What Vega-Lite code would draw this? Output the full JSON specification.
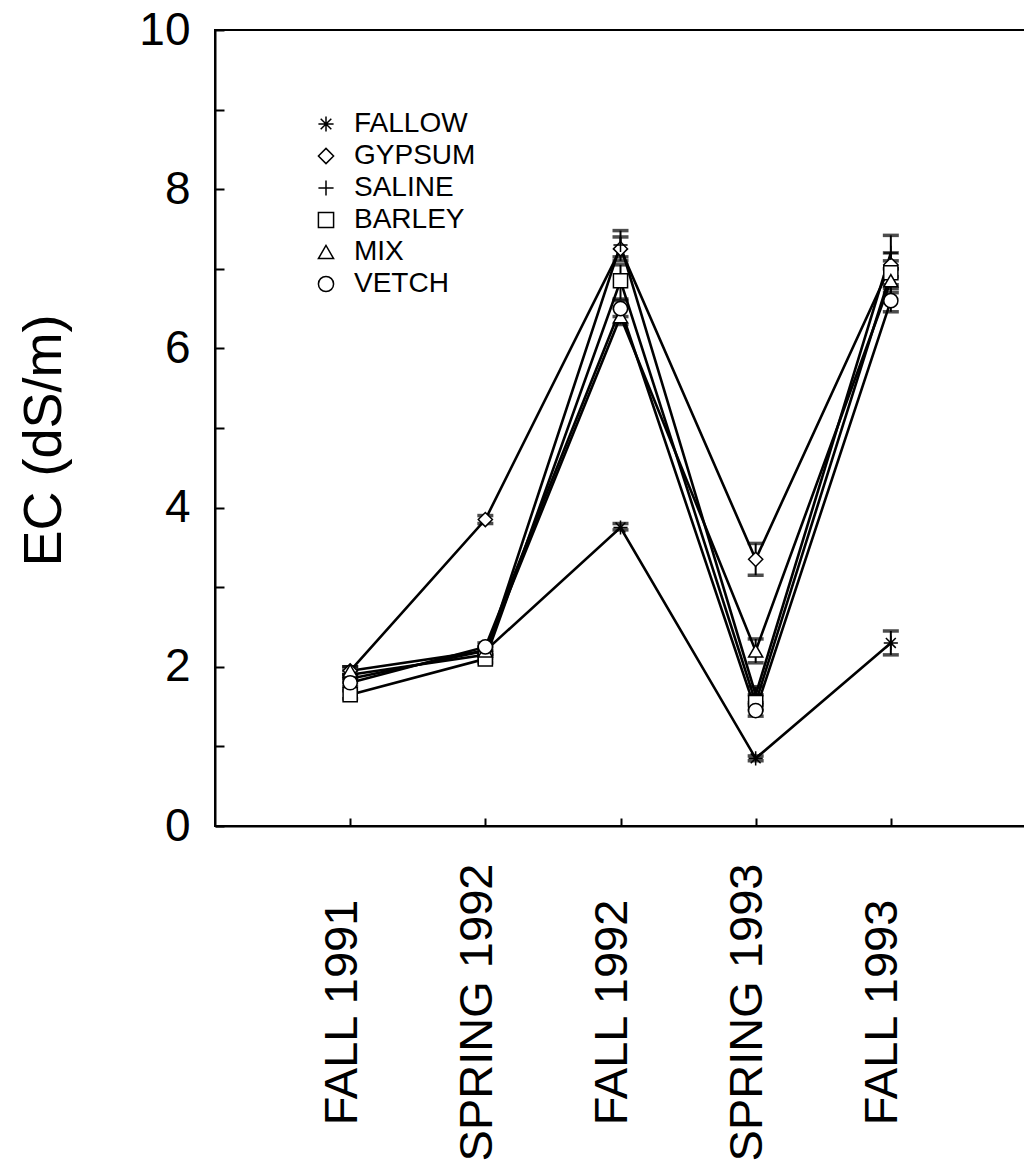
{
  "$schema": "https://vega.github.io/schema/vega-lite/v6.json",
  "width": 811,
  "height": 796,
  "autosize": "none",
  "padding": {"left": 215, "top": 30, "right": 0, "bottom": 340},
  "background": "white",
  "config": {
    "font": "Liberation Sans",
    "view": {"stroke": "black", "strokeWidth": 2},
    "axis": {"domainColor": "black", "domainWidth": 2, "tickColor": "black", "tickWidth": 2, "labelColor": "black", "titleColor": "black", "grid": false, "labelFont": "Liberation Sans", "titleFont": "Liberation Sans", "labelFontWeight": "normal", "titleFontWeight": "normal", "labelLimit": 0}
  },
  "data": {"values": [
    {"series": "FALLOW", "period": "FALL 1991", "value": 1.85, "lo": 1.8, "hi": 1.9},
    {"series": "FALLOW", "period": "SPRING 1992", "value": 2.2, "lo": 2.15, "hi": 2.25},
    {"series": "FALLOW", "period": "FALL 1992", "value": 3.75, "lo": 3.72, "hi": 3.8},
    {"series": "FALLOW", "period": "SPRING 1993", "value": 0.85, "lo": 0.82, "hi": 0.88},
    {"series": "FALLOW", "period": "FALL 1993", "value": 2.3, "lo": 2.15, "hi": 2.45},
    {"series": "GYPSUM", "period": "FALL 1991", "value": 1.95, "lo": 1.9, "hi": 2.0},
    {"series": "GYPSUM", "period": "SPRING 1992", "value": 3.85, "lo": 3.8, "hi": 3.9},
    {"series": "GYPSUM", "period": "FALL 1992", "value": 7.25, "lo": 7.1, "hi": 7.4},
    {"series": "GYPSUM", "period": "SPRING 1993", "value": 3.35, "lo": 3.15, "hi": 3.55},
    {"series": "GYPSUM", "period": "FALL 1993", "value": 7.05, "lo": 6.9, "hi": 7.2},
    {"series": "SALINE", "period": "FALL 1991", "value": 1.9, "lo": 1.85, "hi": 1.95},
    {"series": "SALINE", "period": "SPRING 1992", "value": 2.15, "lo": 2.1, "hi": 2.2},
    {"series": "SALINE", "period": "FALL 1992", "value": 7.3, "lo": 7.15, "hi": 7.48},
    {"series": "SALINE", "period": "SPRING 1993", "value": 1.65, "lo": 1.55, "hi": 1.75},
    {"series": "SALINE", "period": "FALL 1993", "value": 7.2, "lo": 7.0, "hi": 7.42},
    {"series": "BARLEY", "period": "FALL 1991", "value": 1.65, "lo": 1.6, "hi": 1.7},
    {"series": "BARLEY", "period": "SPRING 1992", "value": 2.1, "lo": 2.05, "hi": 2.15},
    {"series": "BARLEY", "period": "FALL 1992", "value": 6.85, "lo": 6.62, "hi": 7.05},
    {"series": "BARLEY", "period": "SPRING 1993", "value": 1.55, "lo": 1.45, "hi": 1.65},
    {"series": "BARLEY", "period": "FALL 1993", "value": 6.95, "lo": 6.8, "hi": 7.1},
    {"series": "MIX", "period": "FALL 1991", "value": 1.95, "lo": 1.9, "hi": 2.0},
    {"series": "MIX", "period": "SPRING 1992", "value": 2.2, "lo": 2.15, "hi": 2.25},
    {"series": "MIX", "period": "FALL 1992", "value": 6.4, "lo": 6.3, "hi": 6.5},
    {"series": "MIX", "period": "SPRING 1993", "value": 2.2, "lo": 2.05, "hi": 2.35},
    {"series": "MIX", "period": "FALL 1993", "value": 6.85, "lo": 6.7, "hi": 7.0},
    {"series": "VETCH", "period": "FALL 1991", "value": 1.8, "lo": 1.75, "hi": 1.85},
    {"series": "VETCH", "period": "SPRING 1992", "value": 2.25, "lo": 2.2, "hi": 2.3},
    {"series": "VETCH", "period": "FALL 1992", "value": 6.5, "lo": 6.4, "hi": 6.6},
    {"series": "VETCH", "period": "SPRING 1993", "value": 1.45, "lo": 1.38, "hi": 1.52},
    {"series": "VETCH", "period": "FALL 1993", "value": 6.6, "lo": 6.46, "hi": 6.75}
  ]},
  "encoding": {
    "x": {
      "field": "period", "type": "ordinal",
      "sort": ["FALL 1991", "SPRING 1992", "FALL 1992", "SPRING 1993", "FALL 1993"],
      "scale": {"type": "point", "padding": 1},
      "axis": {"title": null, "labelAngle": -90, "labelAlign": "center", "labelBaseline": "middle", "labelFontSize": 47, "tickSize": -8, "labelPadding": 194, "labelOffset": -8, "labelFlush": false, "labelOverlap": false}
    }
  },
  "layer": [
    {
      "mark": {"type": "line", "color": "black", "strokeWidth": 2.6},
      "encoding": {
        "y": {"field": "value", "type": "quantitative", "scale": {"domain": [0, 10], "nice": false},
          "axis": {"title": "EC (dS/m)", "values": [0,1,2,3,4,5,6,7,8,9,10], "format": "d", "labelExpr": "datum.value % 2 == 0 ? datum.label : ''", "tickSize": -9, "labelPadding": 34, "labelFontSize": 46, "labelBaseline": "middle", "titleFontSize": 54, "titleAngle": -90, "titleX": -155, "titleY": 410, "titleAlign": "center", "titleBaseline": "alphabetic", "labelFlush": false, "labelOverlap": false}},
        "detail": {"field": "series"}
      }
    },
    {
      "mark": {"type": "rule", "color": "black", "strokeWidth": 2},
      "encoding": {"y": {"field": "lo", "type": "quantitative"}, "y2": {"field": "hi"}}
    },
    {
      "mark": {"type": "tick", "color": "black", "thickness": 3.5, "size": 16, "orient": "horizontal"},
      "encoding": {"y": {"field": "lo", "type": "quantitative"}}
    },
    {
      "mark": {"type": "tick", "color": "black", "thickness": 3.5, "size": 16, "orient": "horizontal"},
      "encoding": {"y": {"field": "hi", "type": "quantitative"}}
    },
    {
      "mark": {"type": "point", "filled": false, "color": "black", "fill": "white", "fillOpacity": 1, "strokeWidth": 1.5, "size": 200, "opacity": 1},
      "encoding": {
        "y": {"field": "value", "type": "quantitative"},
        "shape": {"field": "series", "type": "nominal",
          "scale": {"domain": ["FALLOW", "GYPSUM", "SALINE", "BARLEY", "MIX", "VETCH"],
            "range": ["M-1,0L1,0M0,-1L0,1M-0.7,-0.7L0.7,0.7M-0.7,0.7L0.7,-0.7", "diamond", "M-1,0L1,0M0,-1L0,1", "square", "triangle-up", "circle"]},
          "legend": {"title": null, "orient": "none", "legendX": 97, "legendY": 80, "padding": 0, "labelFontSize": 28, "labelColor": "black", "labelFont": "Liberation Sans", "labelOffset": 14, "rowPadding": 4, "symbolSize": 230,
            "encode": {"symbols": {"update": {"stroke": {"value": "black"}, "fill": {"value": "white"}, "strokeWidth": {"value": 1.5}, "opacity": {"value": 1}, "fillOpacity": {"value": 1}, "strokeOpacity": {"value": 1}}}}}}
      }
    }
  ]
}
